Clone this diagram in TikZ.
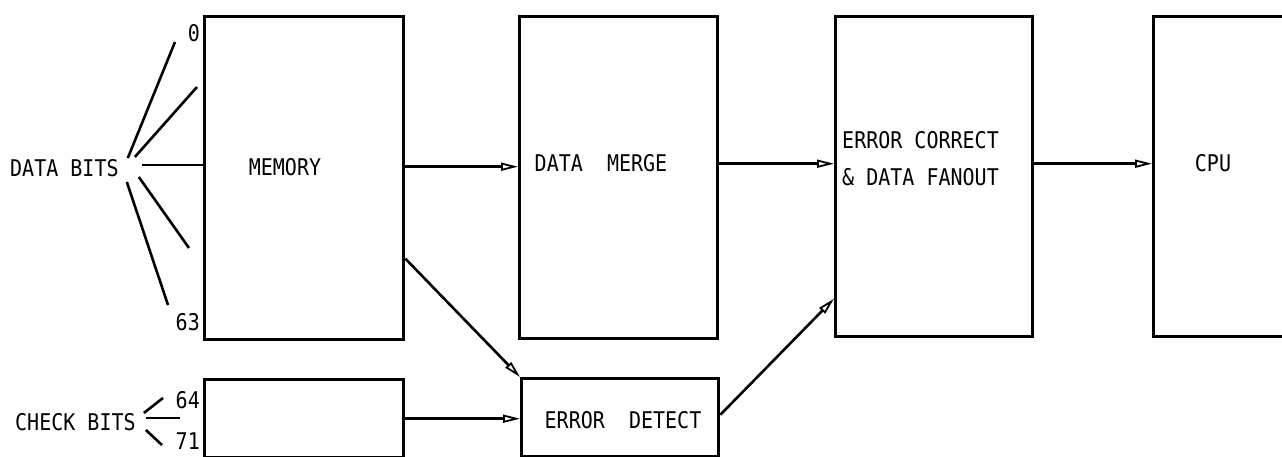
\documentclass[tikz,border=0pt]{standalone}
\usepackage{fontspec}
\newfontfamily\ocr[FakeStretch=0.87]{DejaVu Sans Mono}
\usetikzlibrary{arrows.meta}
\begin{document}
\begin{tikzpicture}[x=1pt,y=-1pt,
  box/.style={draw, line width=3.4pt, inner sep=0pt, anchor=north west},
  conn/.style={line width=2.6pt, -{Triangle[open, length=17pt, width=8pt, line width=1.8pt]}},
  fan/.style={line width=2.6pt},
  lbl/.style={font=\ocr\fontsize{23}{37}\selectfont, inner sep=0pt, align=left}]
\useasboundingbox (0,0) rectangle (1282,457);
\clip (0,0) rectangle (1282,457);
% boxes
\node[box, minimum width=199pt, minimum height=323pt] (mem) at (203,15) {};
\node[box, minimum width=199pt, minimum height=78pt] (chk) at (203,378) {};
\node[box, minimum width=198pt, minimum height=322pt] (dm) at (518,15) {};
\node[box, minimum width=197pt, minimum height=78pt] (ed) at (520,377) {};
\node[box, minimum width=197pt, minimum height=320pt] (ec) at (834,15) {};
\node[box, minimum width=145pt, minimum height=320pt] (cpu) at (1152,15) {};
% texts
\node[lbl, anchor=west] (dbits) at (10,168) {DATA BITS};
\node[lbl, anchor=west] (cbits) at (15,422) {CHECK BITS};
\node[lbl] (memt) at (285,167) {MEMORY};
\node[lbl] (dmt) at (601,163) {DATA~~MERGE};
\node[lbl, anchor=west] (ect) at (842,159) {ERROR CORRECT\\\&~DATA FANOUT};
\node[lbl] (cput) at (1213,163) {CPU};
\node[lbl] (edt) at (623,420) {ERROR~~DETECT};
\node[lbl, anchor=east] (b0) at (200,33) {0};
\node[lbl, anchor=east] (b63) at (200,322) {63};
\node[lbl, anchor=east] (b64) at (200,400) {64};
\node[lbl, anchor=east] (b71) at (200,441) {71};
% fan of data bits
\coordinate (f1) at (175,42);
\coordinate (f2) at (197,87);
\coordinate (f3) at (142,165);
\coordinate (f4) at (189,248);
\coordinate (f5) at (168,305);
\draw[fan] ([shift={(9pt,10pt)}]dbits.east) -- (f1);
\draw[fan] ([shift={(16pt,11pt)}]dbits.east) -- (f2);
\draw[fan] (f3) -- (f3 -| mem.west);
\draw[fan] ([shift={(20pt,-9pt)}]dbits.east) -- (f4);
\draw[fan] ([shift={(8pt,-14pt)}]dbits.east) -- (f5);
% fan of check bits
\coordinate (g1) at (163,398);
\coordinate (g2) at (180,418);
\coordinate (g3) at (162,445);
\draw[fan] ([shift={(8pt,9pt)}]cbits.east) -- (g1);
\draw[fan] ([shift={(10pt,4pt)}]cbits.east) -- (g2);
\draw[fan] ([shift={(10pt,-8pt)}]cbits.east) -- (g3);
% connectors
\draw[conn] ([yshift=11.5pt]mem.east) -- ([yshift=11.5pt]mem.east -| dm.west);
\draw[conn] ([yshift=14pt]dm.east) -- ([yshift=14pt]dm.east -| ec.west);
\draw[conn] ([yshift=13pt]ec.east) -- ([yshift=13pt]ec.east -| cpu.west);
\draw[conn] ([yshift=-80.5pt]mem.east) -- (ed.north west);
\draw[conn] (chk.east) -- (chk.east -| ed.west);
\draw[conn] ([yshift=3pt]ed.east) -- ([yshift=-122pt]ec.west);
\end{tikzpicture}
\end{document}
